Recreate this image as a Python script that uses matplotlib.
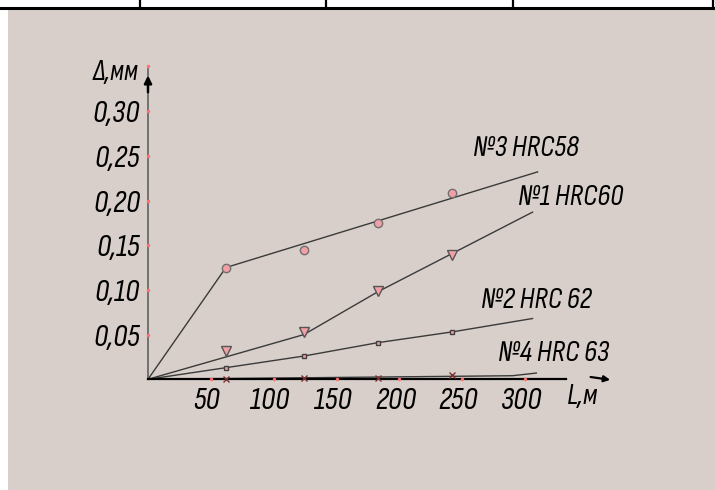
import matplotlib
matplotlib.use("Agg")
import matplotlib.pyplot as plt
from matplotlib.patches import Rectangle
from matplotlib.lines import Line2D

plt.rcParams['font.family'] = ['Sofia Sans Condensed', 'DejaVu Sans']

# path length L, m (measurement points)
L = [62, 124, 183, 242]

# wear, mm
wear_3 = [0.125, 0.145, 0.175, 0.208]   # No3 HRC58 (circles)
wear_1 = [0.032, 0.053, 0.099, 0.139]   # No1 HRC60 (triangles)
wear_2 = [0.013, 0.026, 0.041, 0.053]   # No2 HRC62 (squares)
wear_4 = [0.000, 0.002, 0.002, 0.005]   # No4 HRC63 (crosses)

# trend lines drawn through the points
fit_x_3 = [0, 62, 310]
fit_y_3 = [0, 0.125, 0.232]
fit_x_1 = [0, 124, 183, 306]
fit_y_1 = [0, 0.050, 0.098, 0.187]
fit_x_2 = [0, 62, 124, 183, 242, 306]
fit_y_2 = [0, 0.013, 0.026, 0.041, 0.053, 0.068]
fit_x_4 = [0, 290, 309]
fit_y_4 = [0, 0.004, 0.007]

x_ticks = [50, 100, 150, 200, 250, 300]
y_ticks = [0.05, 0.10, 0.15, 0.20, 0.25, 0.30]
y_tick_labels = ["0,05", "0,10", "0,15", "0,20", "0,25", "0,30"]

W, H = 715, 490
fig = plt.figure(figsize=(W / 100, H / 100), dpi=100, facecolor="white")

# sheet background and header frame
fig.add_artist(Rectangle((8 / W, 0), 1, 1 - 9 / H, transform=fig.transFigure,
                         facecolor="#d8cfca", edgecolor="none", zorder=-5))
fig.add_artist(Line2D([0, 1], [1 - 8 / H] * 2, transform=fig.transFigure,
                      color="black", lw=2.2))
for xp in [140, 326, 513, 713]:
    fig.add_artist(Line2D([xp / W] * 2, [1 - 8 / H, 1], transform=fig.transFigure,
                          color="black", lw=1.6))

# axes mapped so that origin sits at (148, 379) px
ox, oy, sx, sy = 148, 379.3, 1.2567, 894.0
ax = fig.add_axes([0, 0, 1, 1])
ax.set_xlim(-ox / sx, (W - ox) / sx)
ax.set_ylim(-(H - oy) / sy, oy / sy)
ax.axis("off")

line_kw = dict(color="#3a3a3a", lw=1.0, zorder=2)
ax.plot(fit_x_3, fit_y_3, **line_kw)
ax.plot(fit_x_1, fit_y_1, **line_kw)
ax.plot(fit_x_2, fit_y_2, **line_kw)
ax.plot(fit_x_4, fit_y_4, **line_kw)

pink = "#f2a0a6"
ax.plot(L, wear_3, "o", ms=6, mfc=pink, mec="#707070", mew=1.0, zorder=4)
ax.plot(L, wear_1, "v", ms=7.5, mfc=pink, mec="#555555", mew=1.0, zorder=4)
ax.plot(L, wear_2, "s", ms=3.5, mfc=pink, mec="#404040", mew=1.0, zorder=4)
ax.plot(L, wear_4, "x", ms=4.5, color="#7a3030", mew=1.0, zorder=4)

# axes lines
ax.plot([0, 0], [0, 0.347], color="#6a6a6a", lw=1.3, zorder=1)
ax.plot([0, 333], [0, 0], color="black", lw=1.6, zorder=3)
ax.annotate("", xy=(0, 0.343), xytext=(0, 0.318),
            arrowprops=dict(arrowstyle="-|>", color="black", lw=1.8, mutation_scale=11))
ax.annotate("", xy=(370, -0.001), xytext=(350, 0.003),
            arrowprops=dict(arrowstyle="-|>", color="black", lw=1.6, mutation_scale=9))

# tick dots
ax.plot(x_ticks, [0] * len(x_ticks), "o", ms=2.5, color="#ff6f6f", mew=0, zorder=5)
ax.plot([0] * (len(y_ticks) + 1), y_ticks + [0.35], "o", ms=2.5, color="#ff6f6f", mew=0, zorder=5)

tick_txt = dict(style="italic", fontsize=23, color="black")
for v, lab in zip(y_ticks, y_tick_labels):
    ax.text(-6, v, lab, ha="right", va="center_baseline", **tick_txt)
for v in x_ticks:
    ax.text(v - 3, -0.021, str(v), ha="center", va="center_baseline", **tick_txt)

ax.text(-26, 0.347, "Δ,мм", ha="center", va="center_baseline", fontsize=21,
        style="italic", color="black")
ax.text(346, -0.016, "L,м", ha="center", va="center_baseline", fontsize=22,
        style="italic", color="black")

lab_txt = dict(style="italic", fontsize=21.5, color="black")
ax.text(301, 0.261, "№3 HRC58", ha="center", va="center_baseline", **lab_txt)
ax.text(336, 0.207, "№1 HRC60", ha="center", va="center_baseline", **lab_txt)
ax.text(309, 0.092, "№2 HRC 62", ha="center", va="center_baseline", **lab_txt)
ax.text(323, 0.032, "№4 HRC 63", ha="center", va="center_baseline", **lab_txt)

fig.savefig("out.png", dpi=100, facecolor="white")
